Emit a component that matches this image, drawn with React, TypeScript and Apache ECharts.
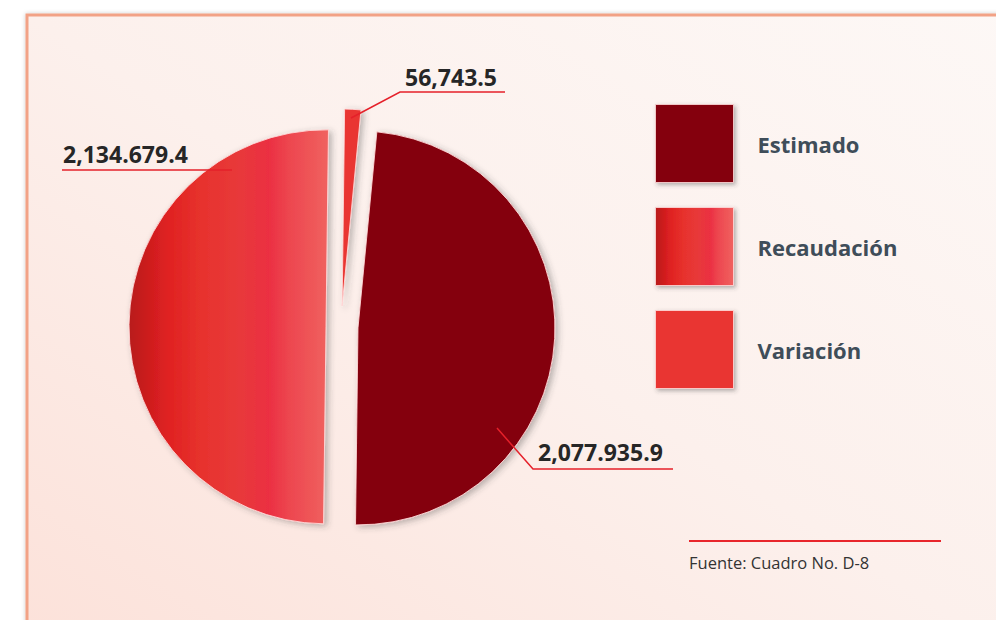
import React, { useEffect, useRef } from "react";
import * as echarts from "echarts";

// ---------- data ----------
const categories = ["Estimado", "Recaudación", "Variación"];
const values = [2077935.9, 2134679.4, 56743.5];
const valueLabels = ["2,077.935.9", "2,134.679.4", "56,743.5"];
const sourceNote = "Fuente: Cuadro No. D-8";

// ---------- styles / layout ----------
const DARK_RED = "#84030f";
const BRIGHT_RED = "#e93631";
const gradientStops = [
  { offset: 0, color: "#b81c1c" },
  { offset: 0.12, color: "#d21e1f" },
  { offset: 0.2, color: "#e02222" },
  { offset: 0.36, color: "#e7322d" },
  { offset: 0.55, color: "#e8393a" },
  { offset: 0.7, color: "#eb2f42" },
  { offset: 0.8, color: "#ed464f" },
  { offset: 1, color: "#f0625f" },
];
const recGradient = () =>
  new echarts.graphic.LinearGradient(0, 0, 1, 0, gradientStops.map((s) => ({ ...s })));
const colorOf = (i: number) => (i === 0 ? DARK_RED : i === 1 ? recGradient() : BRIGHT_RED);

const PIE_CENTER = [341, 327];
const PIE_RADIUS = 197;
const START_ANGLE = 84.5; // degrees, ECharts convention
const EXPLODE = [17, 15, 21]; // px each slice is pulled out along its mid angle

// label annotation anchors (leader start, elbow, end, text anchor)
const LABEL_POS: Record<string, { pts: number[][]; text: number[] }> = {
  Estimado: { pts: [[497, 428], [533, 469], [673, 469]], text: [538, 452] },
  "Recaudación": { pts: [[232, 170], [147, 170], [62, 170]], text: [63, 154] },
  "Variación": { pts: [[351, 118], [400, 92], [505, 92]], text: [405, 77] },
};

const FONT = "'Open Sans', 'Noto Sans', sans-serif";

const sliceStyle = {
  borderColor: "rgba(255,215,215,0.9)",
  borderWidth: 1,
  shadowBlur: 6,
  shadowOffsetX: 3,
  shadowOffsetY: 2,
  shadowColor: "rgba(60,60,60,0.35)",
};

const hiddenStyle = { color: "transparent", borderWidth: 0, shadowBlur: 0, shadowColor: "transparent" };

const labelStyle = {
  show: true,
  position: "outside",
  fontFamily: FONT,
  fontWeight: "bold",
  fontSize: 23,
  color: "#262626",
};

const labelLineStyle = {
  show: true,
  lineStyle: { color: "#e5202a", width: 1.5 },
};

const labelLayout = (p: any) => {
  const name = categories[p.dataIndex];
  const pos = LABEL_POS[name];
  if (!pos) return {};
  return {
    x: pos.text[0],
    y: pos.text[1],
    align: "left",
    verticalAlign: "middle",
    labelLinePoints: pos.pts,
  };
};

// centre of each exploded slice, from the slice's mid angle
function sliceCenter(i: number) {
  const total = values.reduce((a, b) => a + b, 0);
  const before = values.slice(0, i).reduce((a, b) => a + b, 0);
  const mid = START_ANGLE - (360 * (before + values[i] / 2)) / total; // math degrees
  const r = (mid * Math.PI) / 180;
  return [PIE_CENTER[0] + EXPLODE[i] * Math.cos(r), PIE_CENTER[1] - EXPLODE[i] * Math.sin(r)];
}

const basePie = {
  type: "pie",
  radius: PIE_RADIUS,
  startAngle: START_ANGLE,
  clockwise: true,
  avoidLabelOverlap: false,
  silent: true,
  emphasis: { disabled: true },
};

// one series per slice, so every slice can be pulled out by its own amount
function sliceSeries(visibleIndex: number) {
  return {
    ...basePie,
    center: sliceCenter(visibleIndex),
    label: { show: false },
    labelLine: { show: false },
    data: categories.map((name, i) => ({
      name,
      value: values[i],
      itemStyle: i === visibleIndex ? { ...sliceStyle, color: colorOf(i) } : hiddenStyle,
    })),
  };
}

// invisible pie on top that carries the value labels and leader lines
function labelSeries() {
  return {
    ...basePie,
    center: PIE_CENTER,
    z: 5,
    labelLayout,
    data: categories.map((name, i) => ({
      name,
      value: values[i],
      itemStyle: hiddenStyle,
      label: { ...labelStyle, formatter: () => valueLabels[i] },
      labelLine: labelLineStyle,
    })),
  };
}

export default function App() {
  const ref = useRef<HTMLDivElement>(null);

  useEffect(() => {
    if (!ref.current) return;
    const chart = echarts.init(ref.current, null, { renderer: "svg" });
    chart.setOption({
      animation: false,
      backgroundColor: "#ffffff",
      graphic: [
        {
          type: "rect",
          z: -10,
          silent: true,
          shape: { x: 27, y: 15, width: 1000, height: 650 },
          style: {
            fill: new echarts.graphic.LinearGradient(1, 0, 0, 1, [
              { offset: 0, color: "#fdf8f6" },
              { offset: 0.5, color: "#fcf0ec" },
              { offset: 1, color: "#fce1d9" },
            ]),
            stroke: "#f2a286",
            lineWidth: 3,
            shadowBlur: 4,
            shadowColor: "rgba(0,0,0,0.2)",
          },
        },
        {
          type: "line",
          z: 5,
          silent: true,
          shape: { x1: 689, y1: 541, x2: 941, y2: 541 },
          style: { stroke: "#e8262c", lineWidth: 2 },
        },
      ],
      title: {
        text: sourceNote,
        left: 689,
        top: 554,
        padding: 0,
        textStyle: {
          fontFamily: FONT,
          fontWeight: "normal",
          fontSize: 16.5,
          color: "#333333",
        },
      },
      legend: {
        orient: "vertical",
        left: 655,
        top: 104,
        padding: 0,
        itemWidth: 78,
        itemHeight: 78,
        itemGap: 24,
        selectedMode: false,
        textStyle: {
          fontFamily: FONT,
          fontWeight: "bold",
          fontSize: 22,
          color: "#3f4d59",
          padding: [0, 0, 0, 19],
        },
        data: categories.map((name, i) => ({
          name,
          icon: "rect",
          itemStyle: {
            color: colorOf(i),
            opacity: 1,
            borderColor: "rgba(255,220,220,0.8)",
            borderWidth: 1,
            shadowBlur: 4,
            shadowOffsetX: 2,
            shadowOffsetY: 2,
            shadowColor: "rgba(60,60,60,0.4)",
          },
        })),
      },
      series: [sliceSeries(0), sliceSeries(1), sliceSeries(2), labelSeries()],
    });
    return () => chart.dispose();
  }, []);

  return (
    <div
      ref={ref}
      style={{ position: "absolute", left: 0, top: 0, width: 996, height: 620 }}
    />
  );
}
